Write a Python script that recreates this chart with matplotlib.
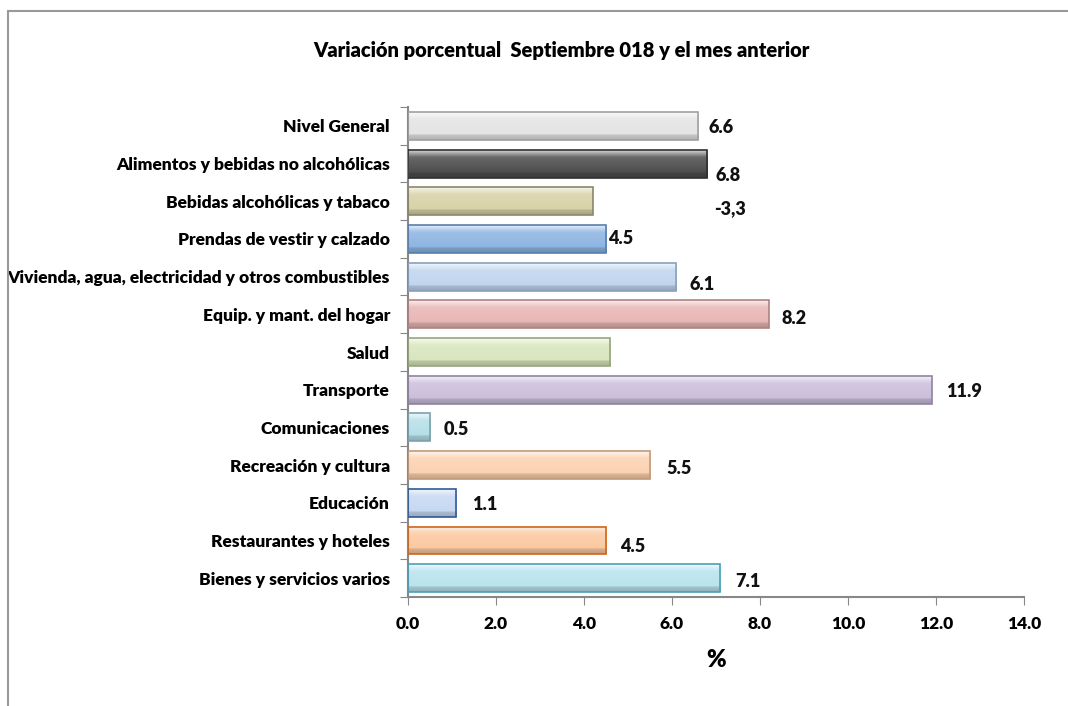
import numpy as np
import matplotlib
matplotlib.use("Agg")
import matplotlib.pyplot as plt
from matplotlib.colors import to_rgb
from matplotlib.patches import Rectangle

# Data
categories = ["Nivel General",
              "Alimentos y bebidas no alcohólicas",
              "Bebidas alcohólicas y tabaco",
              "Prendas de vestir y calzado",
              "Vivienda, agua, electricidad y otros combustibles",
              "Equip. y mant. del hogar",
              "Salud",
              "Transporte",
              "Comunicaciones",
              "Recreación y cultura",
              "Educación",
              "Restaurantes y hoteles",
              "Bienes y servicios varios"]
values = [6.6, 6.8, 4.2, 4.5, 6.1, 8.2, 4.6, 11.9, 0.5, 5.5, 1.1, 4.5, 7.1]
value_labels = ["6.6", "6.8", "-3,3", "4.5", "6.1", "8.2", "",
                "11.9", "0.5", "5.5", "1.1", "4.5", "7.1"]

# Styling
face_colors = ["#e4e4e4", "#4d4d4d", "#d8d2a6", "#8db4e2", "#c0d5ee",
               "#e8b6b5", "#d8e6bd", "#cbbfdc", "#b5dfe8", "#fbd2b0",
               "#c6d8f2", "#fbc9a0", "#b9e3ee"]
edge_colors = ["#a0a0a0", "#303030", "#8c866a", "#5a7fae", "#8aa0bc",
               "#b08282", "#97a57e", "#8f84a0", "#7aa3ad", "#c49a78",
               "#2f5a9a", "#d0661a", "#4aa0b8"]
# label offsets (data units in x, category units in y)
label_dx = [0.22, 0.2, 2.75, 0.05, 0.3, 0.3, 0, 0.32, 0.32, 0.38, 0.35, 0.33, 0.33]
label_dy = [0.05, 0.32, 0.2, 0.0, 0.2, 0.1, 0, 0.05, 0.05, 0.1, 0.05, 0.15, 0.1]

FONT = "Lato"
BAR_H = 0.74


def shade(color, amount):
    c = np.array(to_rgb(color))
    if amount >= 0:
        return c + (1 - c) * amount
    return c * (1 + amount)


def draw_bar(ax, y, value, face, edge):
    # vertical gradient: light top, base color, slightly darker bottom
    stops = np.linspace(0, 1, 40)
    grad = []
    for s in stops:
        if s < 0.25:
            grad.append(shade(face, 0.75 - s * 2.4))
        elif s < 0.8:
            grad.append(shade(face, 0.15 - (s - 0.25) * 0.27))
        else:
            grad.append(shade(face, -0.12 - (s - 0.8) * 0.5))
    img = np.array(grad).reshape(-1, 1, 3)
    ax.imshow(img, extent=[0, value, y + BAR_H / 2, y - BAR_H / 2],
              aspect="auto", origin="upper", zorder=2, interpolation="bilinear")
    ax.barh(y, value, height=BAR_H, color="none", edgecolor=edge,
            linewidth=1.2, zorder=3)


fig = plt.figure(figsize=(10.68, 7.06), dpi=100)
ax = fig.add_axes([0.382, 0.1544, 0.5768, 0.694])

ypos = np.arange(len(categories))
for i, (v, fc, ec) in enumerate(zip(values, face_colors, edge_colors)):
    draw_bar(ax, ypos[i], v, fc, ec)
    if value_labels[i]:
        ax.text(v + label_dx[i], ypos[i] + label_dy[i], value_labels[i],
                ha="left", va="center", fontsize=13, fontweight="heavy",
                family=FONT, color="#111111", zorder=4)

ax.set_xlim(0, 14)
ax.set_ylim(len(categories) - 0.5, -0.5)

ax.set_xticks(np.arange(0, 14.1, 2))
ax.set_xticklabels(["%.1f" % t for t in np.arange(0, 14.1, 2)],
                   fontsize=12.5, fontweight="heavy", family=FONT)
ax.set_yticks(np.arange(-0.5, len(categories), 1))
ax.set_yticklabels([])
ax.set_yticks(ypos, minor=True)
ax.set_yticklabels(categories, minor=True, fontsize=12.5,
                   fontweight="heavy", family=FONT)
ax.tick_params(axis="y", which="minor", length=0, pad=13)
ax.tick_params(axis="y", which="major", length=6, color="#888888")
ax.tick_params(axis="x", length=6, color="#888888", pad=8)

for side in ["top", "right"]:
    ax.spines[side].set_visible(False)
for side in ["left", "bottom"]:
    ax.spines[side].set_color("#888888")
    ax.spines[side].set_linewidth(1.5)

ax.set_xlabel("%", fontsize=17, fontweight="heavy", family=FONT, labelpad=12)
fig.text(0.526, 0.928, "Variación porcentual  Septiembre 018 y el mes anterior",
         ha="center", va="center", fontsize=14.5, fontweight="heavy", family=FONT)

# outer chart frame (cropped at right and bottom)
fig.patches.append(Rectangle((0.0075, -0.05), 1.1, 1.035, transform=fig.transFigure,
                             fill=False, edgecolor="#999999", linewidth=1.5))

fig.savefig("out.png", dpi=100)
